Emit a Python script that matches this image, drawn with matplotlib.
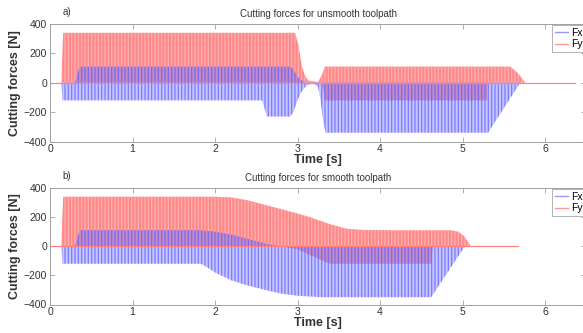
import numpy as np
import matplotlib
matplotlib.use('Agg')
import matplotlib.pyplot as plt
from matplotlib.lines import Line2D

plt.rcParams['font.family'] = ['Liberation Sans', 'DejaVu Sans']
plt.rcParams['hatch.linewidth'] = 0.9

# envelopes (time [s], force [N])
# a) unsmooth toolpath
a_fy_t = [0.14, 0.145, 0.16, 2.97, 3.01, 3.05, 3.09, 3.13, 3.25, 3.30, 3.33, 5.30, 5.301, 5.58, 5.68, 5.76]
a_fy_up = [0, 130, 340, 340, 260, 120, 50, 15, 5, 60, 110, 110, 110, 110, 60, 0]
a_fy_lo = [0, 0, 0, 0, 0, 0, 0, 0, 0, 0, -120, -120, 0, 0, 0, 0]

a_fx_t = [0.14, 0.15, 0.30, 0.36, 2.57, 2.63, 2.91, 2.95, 3.00, 3.05, 3.10, 3.15, 3.20, 3.25, 3.28, 3.31, 3.34, 5.31, 5.70]
a_fx_up = [0, 0, 0, 110, 110, 110, 110, 90, 40, 15, 0, 0, 0, 0, 0, 0, 0, 0, 0]
a_fx_lo = [0, -120, -120, -120, -120, -230, -230, -200, -120, -60, -25, -5, -5, -30, -120, -260, -340, -340, 0]

a_zero_t = [0, 6.36]

# b) smooth toolpath
b_fy_t = [0.14, 0.145, 0.16, 2.0, 2.2, 2.4, 2.6, 2.8, 3.0, 3.15, 3.2, 3.3, 3.4, 3.6, 3.8, 4.2, 4.62, 4.64, 4.85, 4.95, 5.02, 5.1]
b_fy_up = [0, 130, 340, 340, 335, 315, 285, 255, 225, 200, 190, 170, 150, 120, 112, 110, 110, 110, 110, 100, 70, 0]
b_fy_lo = [0, 0, 0, 0, 0, 0, 0, 0, -20, -60, -70, -100, -120, -120, -120, -120, -120, 0, 0, 0, 0, 0]

b_fx_t = [0.14, 0.15, 0.30, 0.36, 1.80, 1.85, 2.0, 2.2, 2.4, 2.63, 2.8, 3.0, 3.3, 4.62, 5.03]
b_fx_up = [0, 0, 0, 110, 110, 108, 100, 80, 50, 15, 0, 0, 0, 0, 0]
b_fx_lo = [0, -120, -120, -120, -120, -125, -180, -235, -270, -303, -325, -340, -350, -350, 0]

b_zero_t = [0, 5.67]

yticks = [-400, -200, 0, 200, 400]
xticks = [0, 1, 2, 3, 4, 5, 6]

W, H = 583, 333
fig = plt.figure(figsize=(W / 100, H / 100), dpi=100)

gray = '#a0a0a0'
txt = '#333333'


def draw_panel(ax, fx_t, fx_up, fx_lo, fy_t, fy_up, fy_lo, zero_t, title, tag, leg_top):
    ax.fill_between(fy_t, fy_lo, fy_up, facecolor=(1, 0.15, 0.15), edgecolor=(1, 0.82, 0.82),
                    hatch='|||||', linewidth=0, alpha=0.55)
    ax.plot(zero_t, [0, 0], color=(1, 0.5, 0.5), lw=0.9)
    ax.fill_between(fx_t, fx_lo, fx_up, facecolor=(0.55, 0.55, 1), edgecolor=(0.2, 0.2, 1),
                    hatch='|||||', linewidth=0, alpha=0.5)
    ax.set_xlim(0, 6.5)
    ax.set_ylim(-400, 400)
    ax.set_xticks(xticks)
    ax.set_yticks(yticks)
    ax.tick_params(direction='in', length=3.5, width=0.6, colors=gray, labelcolor=txt,
                   labelsize=7.5, top=True, right=True, pad=2)
    for s in ax.spines.values():
        s.set_color(gray)
        s.set_linewidth(0.7)
    ax.set_title(title, fontsize=7, color=txt, pad=5)
    ax.set_xlabel('Time [s]', fontsize=9, fontweight='bold', color=txt, labelpad=0)
    ax.set_ylabel('Cutting forces [N]', fontsize=9, fontweight='bold', color=txt, labelpad=2)
    ax.text(0.024, 1.1, tag, transform=ax.transAxes, fontsize=7, color=txt, va='center')
    handles = [Line2D([], [], color=(0.6, 0.6, 1), lw=1), Line2D([], [], color=(1, 0.6, 0.6), lw=1)]
    leg = ax.legend(handles, ['Fx', 'Fy'], loc='upper left',
                    bbox_to_anchor=(552 / W, 1 - leg_top / H), bbox_transform=fig.transFigure,
                    fontsize=7.5, frameon=True, fancybox=False, borderpad=0.25,
                    handlelength=1.3, handletextpad=0.3, labelspacing=0.15, borderaxespad=0)
    leg.get_frame().set_edgecolor(gray)
    leg.get_frame().set_linewidth(0.7)


left = 50 / W
width = 6.5 * 82.5 / W
ax1 = fig.add_axes([left, 1 - 141.5 / H, width, 117.5 / H])
draw_panel(ax1, a_fx_t, a_fx_up, a_fx_lo, a_fy_t, a_fy_up, a_fy_lo, a_zero_t,
           'Cutting forces for unsmooth toolpath', 'a)', 25)

ax2 = fig.add_axes([left, 1 - 304.5 / H, width, 116.5 / H])
draw_panel(ax2, b_fx_t, b_fx_up, b_fx_lo, b_fy_t, b_fy_up, b_fy_lo, b_zero_t,
           'Cutting forces for smooth toolpath', 'b)', 189)

fig.savefig('out.png', dpi=100)
